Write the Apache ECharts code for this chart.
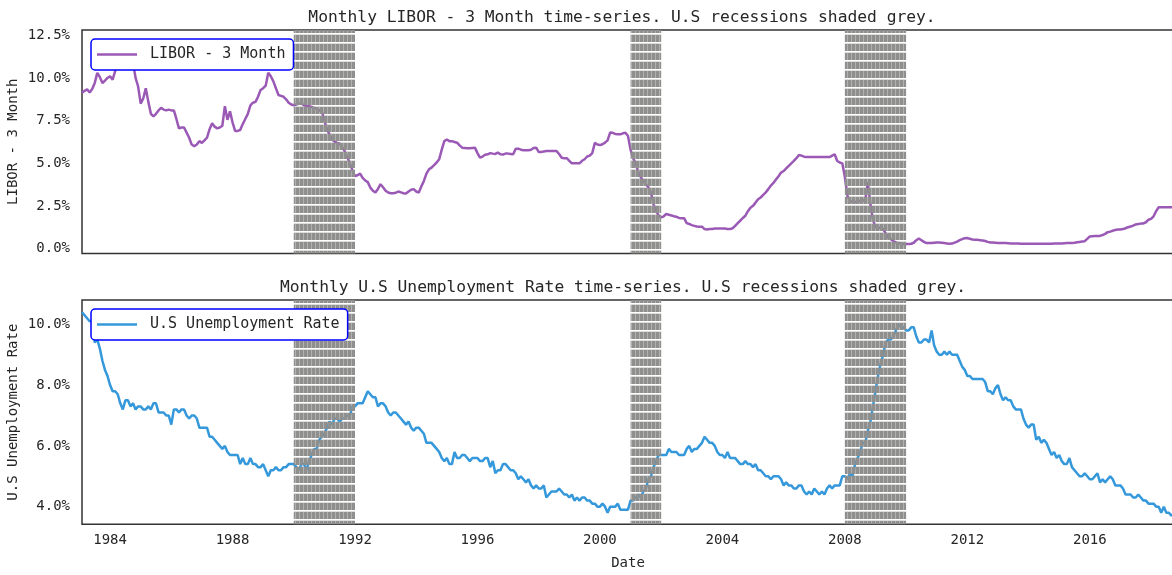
<!DOCTYPE html>
<html style="height: 100%">
<head>
<meta charset="utf-8">
<script src="https://cdn.jsdelivr.net/npm/echarts@6/dist/echarts.min.js"></script>
<title>LIBOR and Unemployment</title>
</head>
<body style="height: 100%; margin: 0">
<div id="container" style="width: 1172px; height: 575px"></div>
<script type="text/javascript">
// monthly values, first month is Feb 1983, last is Oct 2018
var libor = [
    [9.13, 9.25, 9.33, 9.15, 9.35, 9.71, 10.3, 10.05, 9.7, 9.85, 10.0],          // 1983 (Feb-Dec)
    [10.1, 9.9, 10.4, 10.9, 11.6, 12.1, 12.0, 11.9, 11.6, 10.9, 10.0, 9.5],      // 1984
    [8.5, 8.8, 9.4, 8.6, 7.9, 7.75, 7.9, 8.1, 8.25, 8.15, 8.1, 8.15],            // 1985
    [8.1, 8.1, 7.6, 7.05, 7.1, 7.1, 6.8, 6.5, 6.1, 6.0, 6.1, 6.3],               // 1986
    [6.2, 6.35, 6.5, 7.0, 7.35, 7.15, 7.05, 7.1, 7.2, 8.35, 7.55, 8.05],         // 1987
    [7.4, 6.9, 6.9, 6.95, 7.3, 7.6, 7.9, 8.4, 8.55, 8.6, 8.9, 9.3],              // 1988
    [9.4, 9.55, 10.3, 10.1, 9.8, 9.4, 9.0, 8.95, 8.9, 8.75, 8.55, 8.45],         // 1989
    [8.4, 8.45, 8.5, 8.5, 8.4, 8.35, 8.35, 8.3, 8.25, 8.2, 8.1, 8.05],           // 1990
    [7.5, 7.0, 6.7, 6.4, 6.27, 6.2, 6.15, 5.95, 5.7, 5.35, 5.0, 4.6],            // 1991
    [4.25, 4.3, 4.4, 4.15, 4.0, 3.9, 3.58, 3.4, 3.29, 3.5, 3.78, 3.6],           // 1992
    [3.4, 3.29, 3.25, 3.25, 3.28, 3.35, 3.3, 3.25, 3.23, 3.35, 3.45, 3.49],      // 1993
    [3.35, 3.29, 3.65, 3.97, 4.4, 4.65, 4.75, 4.9, 5.05, 5.24, 5.8, 6.3],        // 1994
    [6.4, 6.3, 6.3, 6.25, 6.21, 6.05, 5.92, 5.9, 5.88, 5.88, 5.9, 5.92],         // 1995
    [5.6, 5.33, 5.4, 5.5, 5.53, 5.6, 5.57, 5.55, 5.63, 5.53, 5.52, 5.57],        // 1996
    [5.57, 5.55, 5.53, 5.86, 5.86, 5.8, 5.77, 5.77, 5.77, 5.8, 5.9, 5.92],       // 1997
    [5.67, 5.67, 5.7, 5.72, 5.72, 5.72, 5.72, 5.72, 5.55, 5.33, 5.3, 5.3],       // 1998
    [5.15, 5.0, 5.0, 5.0, 5.0, 5.15, 5.24, 5.4, 5.45, 5.6, 6.2, 6.1],            // 1999
    [6.07, 6.12, 6.21, 6.35, 6.8, 6.79, 6.72, 6.7, 6.7, 6.76, 6.79, 6.6],        // 2000
    [5.8, 5.3, 5.0, 4.5, 4.2, 3.95, 3.78, 3.6, 3.3, 2.6, 2.2, 1.95],             // 2001
    [1.83, 1.9, 2.03, 1.99, 1.95, 1.9, 1.87, 1.8, 1.79, 1.79, 1.5, 1.45],        // 2002
    [1.38, 1.34, 1.3, 1.29, 1.29, 1.15, 1.12, 1.15, 1.16, 1.19, 1.19, 1.19],     // 2003
    [1.19, 1.19, 1.16, 1.15, 1.2, 1.34, 1.5, 1.64, 1.8, 1.93, 2.2, 2.4],         // 2004
    [2.51, 2.7, 2.9, 3.0, 3.15, 3.3, 3.49, 3.7, 3.85, 4.05, 4.25, 4.46],         // 2005
    [4.55, 4.7, 4.85, 5.0, 5.14, 5.3, 5.49, 5.45, 5.39, 5.37, 5.37, 5.37],       // 2006
    [5.37, 5.37, 5.37, 5.37, 5.37, 5.37, 5.37, 5.45, 5.53, 5.14, 5.05, 5.0],     // 2007
    [4.2, 3.1, 2.8, 2.75, 2.72, 2.77, 2.8, 2.82, 2.87, 3.9, 2.6, 1.7],           // 2008
    [1.25, 1.24, 1.22, 1.15, 0.9, 0.65, 0.55, 0.45, 0.37, 0.33, 0.3, 0.28],      // 2009
    [0.27, 0.27, 0.29, 0.35, 0.5, 0.6, 0.5, 0.4, 0.33, 0.33, 0.33, 0.35],        // 2010
    [0.37, 0.36, 0.35, 0.33, 0.31, 0.29, 0.3, 0.36, 0.42, 0.5, 0.56, 0.62],      // 2011
    [0.63, 0.58, 0.54, 0.53, 0.52, 0.5, 0.48, 0.45, 0.4, 0.37, 0.36, 0.35],      // 2012
    [0.34, 0.33, 0.33, 0.33, 0.32, 0.31, 0.3, 0.3, 0.3, 0.29, 0.29, 0.29],       // 2013
    [0.29, 0.29, 0.29, 0.29, 0.29, 0.29, 0.29, 0.29, 0.29, 0.29, 0.3, 0.31],     // 2014
    [0.3, 0.31, 0.32, 0.33, 0.33, 0.34, 0.35, 0.38, 0.4, 0.42, 0.44, 0.58],      // 2015
    [0.72, 0.73, 0.74, 0.74, 0.75, 0.8, 0.87, 0.97, 1.0, 1.05, 1.1, 1.13],       // 2016
    [1.13, 1.15, 1.2, 1.26, 1.3, 1.35, 1.42, 1.45, 1.47, 1.48, 1.55, 1.7],       // 2017
    [1.75, 1.9, 2.2, 2.43, 2.43, 2.43, 2.43, 2.43, 2.43, 2.44]                   // 2018 (Jan-Oct)
];

var unemployment = [
    [10.4, 10.3, 10.2, 10.1, 10.1, 9.4, 9.5, 9.2, 8.8, 8.5, 8.3],                // 1983 (Feb-Dec)
    [8.0, 7.8, 7.8, 7.7, 7.4, 7.2, 7.5, 7.5, 7.3, 7.4, 7.2, 7.3],
    [7.3, 7.2, 7.2, 7.3, 7.2, 7.4, 7.4, 7.1, 7.1, 7.1, 7.0, 7.0],
    [6.7, 7.2, 7.2, 7.1, 7.2, 7.2, 7.0, 6.9, 7.0, 7.0, 6.9, 6.6],
    [6.6, 6.6, 6.6, 6.3, 6.3, 6.2, 6.1, 6.0, 5.9, 6.0, 5.8, 5.7],
    [5.7, 5.7, 5.7, 5.4, 5.6, 5.4, 5.4, 5.6, 5.4, 5.4, 5.3, 5.3],
    [5.4, 5.2, 5.0, 5.2, 5.2, 5.3, 5.2, 5.2, 5.3, 5.3, 5.4, 5.4],
    [5.4, 5.3, 5.2, 5.4, 5.4, 5.2, 5.5, 5.7, 5.9, 5.9, 6.2, 6.3],
    [6.4, 6.6, 6.8, 6.7, 6.9, 6.9, 6.8, 6.9, 6.9, 7.0, 7.0, 7.3],
    [7.3, 7.4, 7.4, 7.4, 7.6, 7.8, 7.7, 7.6, 7.6, 7.3, 7.4, 7.4],
    [7.3, 7.1, 7.0, 7.1, 7.1, 7.0, 6.9, 6.8, 6.7, 6.8, 6.6, 6.5],
    [6.6, 6.6, 6.5, 6.4, 6.1, 6.1, 6.1, 6.0, 5.9, 5.8, 5.6, 5.5],
    [5.6, 5.4, 5.4, 5.8, 5.6, 5.6, 5.7, 5.7, 5.6, 5.5, 5.6, 5.6],
    [5.6, 5.5, 5.5, 5.6, 5.6, 5.3, 5.5, 5.1, 5.2, 5.2, 5.4, 5.4],
    [5.3, 5.2, 5.2, 5.1, 4.9, 5.0, 4.9, 4.8, 4.9, 4.7, 4.6, 4.7],
    [4.6, 4.6, 4.7, 4.3, 4.4, 4.5, 4.5, 4.5, 4.6, 4.5, 4.4, 4.4],
    [4.3, 4.4, 4.2, 4.3, 4.2, 4.3, 4.3, 4.2, 4.2, 4.1, 4.1, 4.0],
    [4.0, 4.1, 4.0, 3.8, 4.0, 4.0, 4.0, 4.1, 3.9, 3.9, 3.9, 3.9],
    [4.2, 4.2, 4.3, 4.4, 4.3, 4.5, 4.6, 4.9, 5.0, 5.3, 5.5, 5.7],
    [5.7, 5.7, 5.7, 5.9, 5.8, 5.8, 5.8, 5.7, 5.7, 5.7, 5.9, 6.0],
    [5.8, 5.9, 5.9, 6.0, 6.1, 6.3, 6.2, 6.1, 6.1, 6.0, 5.8, 5.7],
    [5.7, 5.6, 5.8, 5.6, 5.6, 5.6, 5.5, 5.4, 5.4, 5.5, 5.4, 5.4],
    [5.3, 5.4, 5.2, 5.2, 5.1, 5.0, 5.0, 4.9, 5.0, 5.0, 5.0, 4.9],
    [4.7, 4.8, 4.7, 4.7, 4.6, 4.6, 4.7, 4.7, 4.5, 4.4, 4.5, 4.4],
    [4.6, 4.5, 4.4, 4.5, 4.4, 4.6, 4.7, 4.6, 4.7, 4.7, 4.7, 5.0],
    [5.0, 4.9, 5.1, 5.0, 5.4, 5.6, 5.8, 6.1, 6.1, 6.5, 6.8, 7.3],
    [7.8, 8.3, 8.7, 9.0, 9.4, 9.5, 9.5, 9.6, 9.8, 10.0, 9.9, 9.9],
    [9.8, 9.8, 9.9, 9.9, 9.6, 9.4, 9.4, 9.5, 9.5, 9.4, 9.8, 9.3],
    [9.1, 9.0, 9.0, 9.1, 9.0, 9.1, 9.0, 9.0, 9.0, 8.8, 8.6, 8.5],
    [8.3, 8.3, 8.2, 8.2, 8.2, 8.2, 8.2, 8.1, 7.8, 7.8, 7.7, 7.9],
    [8.0, 7.7, 7.5, 7.6, 7.5, 7.5, 7.3, 7.2, 7.2, 7.2, 6.9, 6.7],
    [6.6, 6.7, 6.7, 6.2, 6.3, 6.1, 6.2, 6.1, 5.9, 5.7, 5.8, 5.6],
    [5.7, 5.5, 5.4, 5.4, 5.6, 5.3, 5.2, 5.1, 5.0, 5.0, 5.1, 5.0],
    [4.9, 4.9, 5.0, 5.1, 4.8, 4.9, 4.8, 4.9, 5.0, 4.9, 4.7, 4.7],
    [4.7, 4.6, 4.4, 4.4, 4.4, 4.3, 4.3, 4.4, 4.3, 4.2, 4.2, 4.1],
    [4.1, 4.1, 4.0, 4.0, 3.8, 4.0, 3.8, 3.8, 3.7, 3.8]                           // 2018 (Jan-Oct)
];

// recession spans in years, as shaded in the picture
var recessions = [[1990, 1992], [2001, 2002], [2008, 2010]];
var yearTicks = [1984, 1988, 1992, 1996, 2000, 2004, 2008, 2012, 2016];
var liborTicks = [0, 2.5, 5, 7.5, 10, 12.5];
var unempTicks = [4, 6, 8, 10];

var mono = 'DejaVu Sans Mono';
var ink = '#262626';

// x is a decimal year: Jan = year + 0/12, Feb = year + 1/12 ...
function toSeries(rows) {
    var out = [];
    var y = 1983, m = 2;
    rows.forEach(function (row) {
        row.forEach(function (v) {
            out.push([y + (m - 1) / 12, v]);
            m++;
            if (m > 12) { m = 1; y++; }
        });
    });
    return out;
}

// grey block made of dense dashed vertical lines, gaps let the line show through
function hatch() {
    var c = document.createElement('canvas');
    c.width = 4; c.height = 9;
    var g = c.getContext('2d');
    g.fillStyle = '#8f908e'; g.fillRect(0, 0, 3, 6); g.fillRect(0, 8, 3, 1);
    g.fillStyle = 'rgba(143,144,142,0.7)'; g.fillRect(3, 0, 1, 6); g.fillRect(3, 8, 1, 1);
    g.fillStyle = 'rgba(143,144,142,0.3)'; g.fillRect(0, 7, 4, 1);
    return c;
}
var pattern = { image: hatch(), repeat: 'repeat' };

function shade(idx) {
    return {
        name: 'recession' + idx,
        type: 'line',
        xAxisIndex: idx,
        yAxisIndex: idx,
        data: [],
        markArea: {
            silent: true,
            z: 3,
            itemStyle: { color: pattern },
            data: recessions.map(function (r) { return [{ xAxis: r[0] }, { xAxis: r[1] }]; })
        }
    };
}

var legendBase = {
    backgroundColor: '#fff',
    borderColor: '#0000ff',
    borderWidth: 1.5,
    borderRadius: 4,
    padding: [8, 8, 8, 6],
    icon: 'rect',
    itemWidth: 40,
    itemHeight: 2.5,
    textStyle: { fontFamily: mono, fontSize: 15, color: ink, padding: [0, 0, 0, 8] }
};

var xBase = {
    type: 'value',
    min: 1983 + 1 / 12,
    max: 2018 + 9 / 12,
    axisLine: { show: false },
    axisTick: { show: false },
    splitLine: { show: false }
};

var yBase = {
    type: 'value',
    axisLine: { show: false },
    axisTick: { show: false },
    splitLine: { show: false },
    nameLocation: 'middle',
    nameGap: 62,
    nameMoveOverlap: false,
    nameTextStyle: { fontFamily: mono, fontSize: 14, color: ink }
};

var gridBase = { left: 82, right: -2, show: true, borderColor: '#333', borderWidth: 1.5, outerBoundsMode: 'none', containLabel: false };

var chart = echarts.init(document.getElementById('container'));
chart.setOption({
    animation: false,
    textStyle: { fontFamily: mono },
    title: [
        { text: 'Monthly LIBOR - 3 Month time-series. U.S recessions shaded grey.', left: 617, top: 5, textAlign: 'center',
          textStyle: { fontFamily: mono, fontSize: 16.3, fontWeight: 'normal', color: ink } },
        { text: 'Monthly U.S Unemployment Rate time-series. U.S recessions shaded grey.', left: 618, top: 275, textAlign: 'center',
          textStyle: { fontFamily: mono, fontSize: 16.3, fontWeight: 'normal', color: ink } }
    ],
    legend: [
        Object.assign({ left: 91, top: 39, data: ['LIBOR - 3 Month'] }, legendBase),
        Object.assign({ left: 91, top: 309, data: ['U.S Unemployment Rate'] }, legendBase)
    ],
    grid: [
        Object.assign({ top: 30, height: 223.5 }, gridBase),
        Object.assign({ top: 300, height: 224.3 }, gridBase)
    ],
    xAxis: [
        Object.assign({ gridIndex: 0, axisLabel: { show: false } }, xBase),
        Object.assign({
            gridIndex: 1,
            name: 'Date',
            nameLocation: 'middle',
            nameGap: 32,
            nameMoveOverlap: false,
            nameTextStyle: { fontFamily: mono, fontSize: 14, color: ink },
            axisLabel: {
                margin: 9,
                fontFamily: mono, fontSize: 14, color: ink,
                customValues: yearTicks,
                formatter: function (v) { return String(Math.round(v)); }
            }
        }, xBase)
    ],
    yAxis: [
        Object.assign({
            gridIndex: 0, min: -0.28, max: 12.81, name: 'LIBOR - 3 Month',
            axisLabel: { margin: 12, fontFamily: mono, fontSize: 14, color: ink, customValues: liborTicks,
                formatter: function (v) { return v.toFixed(1) + '%'; } }
        }, yBase),
        Object.assign({
            gridIndex: 1, min: 3.42, max: 10.8, name: 'U.S Unemployment Rate',
            axisLabel: { margin: 12, fontFamily: mono, fontSize: 14, color: ink, customValues: unempTicks,
                formatter: function (v) { return v.toFixed(1) + '%'; } }
        }, yBase)
    ],
    series: [
        { name: 'LIBOR - 3 Month', type: 'line', xAxisIndex: 0, yAxisIndex: 0, symbol: 'none', z: 2,
          data: toSeries(libor), lineStyle: { width: 2.5, color: '#9b59b6' }, itemStyle: { color: '#9b59b6' } },
        { name: 'U.S Unemployment Rate', type: 'line', xAxisIndex: 1, yAxisIndex: 1, symbol: 'none', z: 2,
          data: toSeries(unemployment), lineStyle: { width: 2.5, color: '#3498db' }, itemStyle: { color: '#3498db' } },
        shade(0),
        shade(1)
    ]
});
</script>
</body>
</html>
